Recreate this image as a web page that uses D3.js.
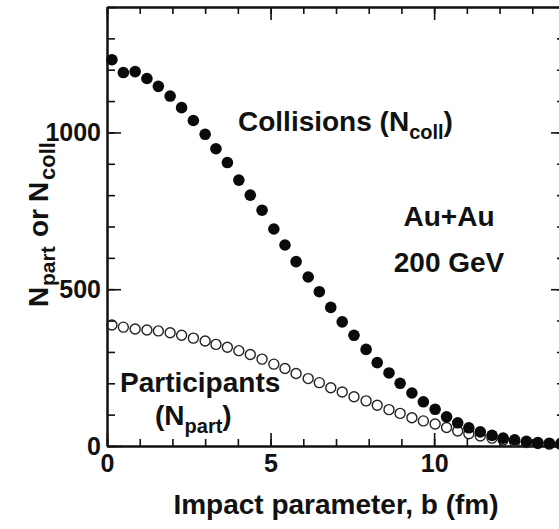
<!DOCTYPE html>
<html>
<head>
<meta charset="utf-8">
<script src="https://cdn.jsdelivr.net/npm/d3@7"></script>
<style>
  html, body { margin: 0; padding: 0; background: #fff; }
  svg { display: block; }
  text { font-family: "Liberation Sans", Arial, Helvetica, sans-serif; font-weight: bold; fill: #111; }
</style>
</head>
<body>
<svg id="chart" width="559" height="529"></svg>
<script>
// Impact parameter b (fm) for each Glauber point
const bValues = [0.15, 0.50, 0.86, 1.22, 1.57, 1.93, 2.28, 2.64, 3.00, 3.33,
                 3.68, 4.03, 4.38, 4.74, 5.10, 5.44, 5.78, 6.15, 6.49, 6.84,
                 7.19, 7.55, 7.92, 8.26, 8.62, 8.96, 9.32, 9.67, 10.03, 10.38,
                 10.72, 11.06, 11.41, 11.77, 12.11, 12.46, 12.82, 13.17, 13.52, 13.87];

// Number of binary collisions
const nColl = [1232, 1191, 1194, 1172, 1147, 1116, 1079, 1038, 994, 948,
               904, 848, 800, 752, 692, 641, 588, 539, 492, 442,
               396, 353, 308, 266, 233, 200, 169, 141, 117, 93,
               74, 58, 45, 34, 25, 20, 15, 11, 9, 8];

// Number of participant nucleons
const nPart = [386, 379, 373, 370, 367, 361, 353, 344, 335, 324,
               315, 304, 292, 277, 261, 247, 231, 215, 202, 186,
               172, 157, 144, 130, 116, 104, 90, 80, 70, 59,
               48, 39, 32, 25, 19, 14, 11, 8, 6, 5];

const xMajorTicks = [0, 5, 10];
const xMinorTicks = d3.range(0, 15, 1);
const yMajorTicks = [0, 500, 1000];
const yMinorTicks = d3.range(0, 1401, 100);

const svg = d3.select("#chart");
const plotLeft = 107, plotRight = 565, plotTop = 7, plotBottom = 446;

const x = d3.scaleLinear().domain([0, 14]).range([plotLeft, plotRight]);
const y = d3.scaleLinear().domain([0, 1400]).range([plotBottom, plotTop]);

function styleAxis(g) {
  g.selectAll(".domain").attr("stroke", "#111").attr("stroke-width", 2);
  g.selectAll(".tick line").attr("stroke", "#111").attr("stroke-width", 1.6);
  g.selectAll(".tick text").attr("font-size", 25).attr("fill", "#111")
    .attr("font-family", "'Liberation Sans', Arial, sans-serif").attr("font-weight", "bold");
}

// bottom axis: inward ticks, labels below
svg.append("g").attr("transform", `translate(0,${plotBottom})`)
  .call(d3.axisBottom(x).tickValues(xMinorTicks).tickSize(-7).tickFormat("").tickSizeOuter(0))
  .call(styleAxis);
svg.append("g").attr("transform", `translate(0,${plotBottom})`)
  .call(d3.axisBottom(x).tickValues(xMajorTicks).tickSize(-13).tickPadding(8).tickFormat(d3.format("d")).tickSizeOuter(0))
  .call(styleAxis);

// top axis: inward ticks only
svg.append("g").attr("transform", `translate(0,${plotTop})`)
  .call(d3.axisTop(x).tickValues(xMinorTicks).tickSize(-7).tickFormat("").tickSizeOuter(0))
  .call(styleAxis);
svg.append("g").attr("transform", `translate(0,${plotTop})`)
  .call(d3.axisTop(x).tickValues(xMajorTicks).tickSize(-13).tickFormat("").tickSizeOuter(0))
  .call(styleAxis);

// left axis
svg.append("g").attr("transform", `translate(${plotLeft},0)`)
  .call(d3.axisLeft(y).tickValues(yMinorTicks).tickSize(-8).tickFormat("").tickSizeOuter(0))
  .call(styleAxis);
svg.append("g").attr("transform", `translate(${plotLeft},0)`)
  .call(d3.axisLeft(y).tickValues(yMajorTicks).tickSize(-14).tickPadding(6).tickFormat(d3.format("d")).tickSizeOuter(0))
  .call(styleAxis);

// right axis
svg.append("g").attr("transform", `translate(${plotRight},0)`)
  .call(d3.axisRight(y).tickValues(yMinorTicks).tickSize(-8).tickFormat("").tickSizeOuter(0))
  .call(styleAxis);
svg.append("g").attr("transform", `translate(${plotRight},0)`)
  .call(d3.axisRight(y).tickValues(yMajorTicks).tickSize(-14).tickFormat("").tickSizeOuter(0))
  .call(styleAxis);

const rows = bValues.map((b, i) => ({ b, coll: nColl[i], part: nPart[i] }));

// participants: open circles
svg.append("g").selectAll("circle").data(rows).join("circle")
  .attr("cx", d => x(d.b)).attr("cy", d => y(d.part)).attr("r", 5)
  .attr("fill", "none").attr("stroke", "#222").attr("stroke-width", 1.4);

// collisions: filled circles
svg.append("g").selectAll("circle").data(rows).join("circle")
  .attr("cx", d => x(d.b)).attr("cy", d => y(d.coll)).attr("r", 5.8)
  .attr("fill", "#0a0a0a");

// x-axis title
svg.append("text").attr("x", 336).attr("y", 514).attr("text-anchor", "middle")
  .attr("font-size", 28).text("Impact parameter, b (fm)");

// y-axis title with subscripts
const yt = svg.append("text").attr("transform", "translate(48,307) rotate(-90)").attr("font-size", 28);
yt.append("tspan").attr("x", 0).attr("y", 0).text("N");
yt.append("tspan").attr("x", 21).attr("y", 7).attr("font-size", 21).text("part");
yt.append("tspan").attr("x", 70).attr("y", 0).text("or");
yt.append("tspan").attr("x", 105).attr("y", 0).text("N");
yt.append("tspan").attr("x", 127).attr("y", 7).attr("font-size", 22).text("coll");

// annotations
const coll = svg.append("text").attr("x", 238).attr("y", 131).attr("font-size", 28);
coll.append("tspan").text("Collisions (N");
coll.append("tspan").attr("font-size", 20).attr("dy", 8).text("coll");
coll.append("tspan").attr("dy", -8).text(")");

svg.append("text").attr("x", 449).attr("y", 226).attr("text-anchor", "middle")
  .attr("font-size", 28).text("Au+Au");
svg.append("text").attr("x", 449).attr("y", 272).attr("text-anchor", "middle")
  .attr("font-size", 28).text("200 GeV");

svg.append("text").attr("x", 120).attr("y", 392).attr("font-size", 28).text("Participants");
const part = svg.append("text").attr("x", 155).attr("y", 425).attr("font-size", 28);
part.append("tspan").text("(N");
part.append("tspan").attr("font-size", 20).attr("dy", 8).text("part");
part.append("tspan").attr("dy", -8).text(")");
</script>
</body>
</html>
